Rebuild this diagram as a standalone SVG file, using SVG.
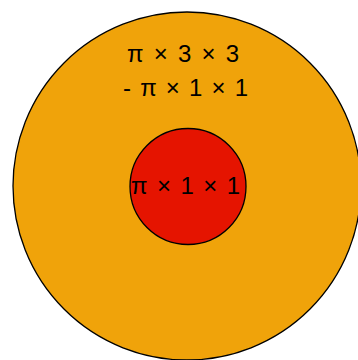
<svg xmlns="http://www.w3.org/2000/svg" width="358" height="360" viewBox="0 0 358 360">
<style>
.c{stroke:#000;stroke-width:1.3}
.t{font-family:"Liberation Sans",Arial,sans-serif;font-size:24px;fill:#000}
</style>
<g id="outer">
<circle class="c" cx="187" cy="186" r="174" fill="#F0A30A"/>
<text class="t" x="127" y="62" textLength="112" lengthAdjust="spacing">π × 3 × 3</text>
<text class="t" x="123" y="96" textLength="125" lengthAdjust="spacing">- π × 1 × 1</text>
</g>
<g id="inner">
<circle class="c" cx="188" cy="186.5" r="58" fill="#E51400"/>
<text class="t" x="131" y="194" textLength="109" lengthAdjust="spacing">π × 1 × 1</text>
</g>
<g id="connectors"/>
</svg>
